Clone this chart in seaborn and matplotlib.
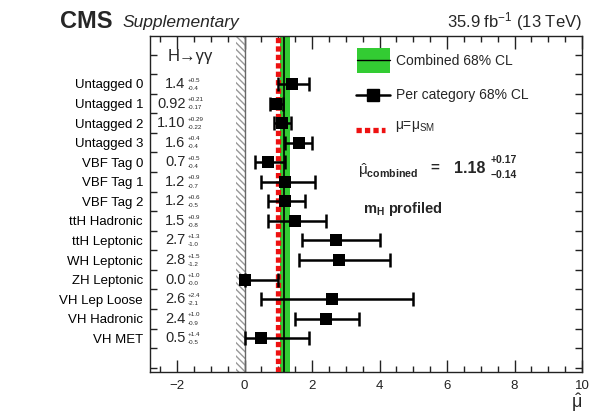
import numpy as np
import pandas as pd
import matplotlib
matplotlib.use("Agg")
import matplotlib.pyplot as plt
from matplotlib.ticker import MultipleLocator, FixedLocator
import seaborn as sns

categories = ["Untagged 0", "Untagged 1", "Untagged 2", "Untagged 3",
              "VBF Tag 0", "VBF Tag 1", "VBF Tag 2",
              "ttH Hadronic", "ttH Leptonic", "WH Leptonic", "ZH Leptonic",
              "VH Lep Loose", "VH Hadronic", "VH MET"]
mu_values = [1.4, 0.92, 1.10, 1.6, 0.7, 1.2, 1.2, 1.5, 2.7, 2.8, 0.0, 2.6, 2.4, 0.5]
err_up = [0.5, 0.21, 0.29, 0.4, 0.5, 0.9, 0.6, 0.9, 1.3, 1.5, 1.0, 2.4, 1.0, 1.4]
err_down = [0.4, 0.17, 0.22, 0.4, 0.4, 0.7, 0.5, 0.8, 1.0, 1.2, 0.0, 2.1, 0.9, 0.5]
value_labels = ["1.4", "0.92", "1.10", "1.6", "0.7", "1.2", "1.2",
                "1.5", "2.7", "2.8", "0.0", "2.6", "2.4", "0.5"]
up_labels = ["+0.5", "+0.21", "+0.29", "+0.4", "+0.5", "+0.9", "+0.6",
             "+0.9", "+1.3", "+1.5", "+1.0", "+2.4", "+1.0", "+1.4"]
down_labels = ["-0.4", "-0.17", "-0.22", "-0.4", "-0.4", "-0.7", "-0.5",
               "-0.8", "-1.0", "-1.2", "-0.0", "-2.1", "-0.9", "-0.5"]

mu_combined = 1.18
combined_up = 0.17
combined_down = 0.14
mu_sm = 1.0
x_ticks = [-2, 0, 2, 4, 6, 8, 10]

sns.set_theme(style="ticks")
plt.rcParams["font.family"] = ["Liberation Sans", "DejaVu Sans"]
plt.rcParams["mathtext.fontset"] = "custom"
plt.rcParams["mathtext.rm"] = "Liberation Sans"
plt.rcParams["mathtext.it"] = "Liberation Sans:italic"
plt.rcParams["mathtext.bf"] = "Liberation Sans:bold"

df = pd.DataFrame({"category": categories, "mu": mu_values,
                   "up": err_up, "down": err_down,
                   "y": np.arange(len(categories))})

fig = plt.figure(figsize=(6.08, 4.15), dpi=100)
ax = fig.add_axes([150 / 608, 1 - 372 / 415, 432 / 608, 336 / 415])

green = "#33cc33"
red = "#ee1111"
sm_dash = (0, (1.0, 0.6))
# combined 68% band with central value
ax.axvspan(mu_combined - combined_down, mu_combined + combined_up,
           color=green, lw=0, zorder=1)
ax.axvline(mu_combined, color="black", lw=1.2, zorder=2)
# SM expectation
ax.axvline(mu_sm, color=red, lw=3.8, ls=sm_dash, zorder=3)
# physical boundary at mu = 0
ax.axvspan(-0.25, 0, facecolor="none", edgecolor="#999999", hatch="\\\\\\\\\\",
           lw=0, zorder=1)
ax.axvline(0, color="#666666", lw=1.0, zorder=2)

# per-category results
ax.errorbar(df["mu"], df["y"], xerr=[df["down"], df["up"]], fmt="none",
            ecolor="black", elinewidth=1.8, capsize=5, capthick=1.8, zorder=4)
sns.scatterplot(data=df, x="mu", y="y", marker="s", s=66, color="black",
                edgecolor="black", linewidth=0, ax=ax, zorder=5, legend=False)

ax.set_xlim(-2.8, 10)
ax.set_ylim(14.72, -2.45)
ax.set_xlabel("")
ax.set_ylabel("")

ax.xaxis.set_major_locator(FixedLocator(x_ticks))
ax.xaxis.set_minor_locator(MultipleLocator(0.5))
ax.set_xticklabels([("\u2212" + str(-t)) if t < 0 else str(t) for t in x_ticks])
ax.tick_params(axis="x", which="major", direction="in", length=9, width=1,
               top=True, labelsize=9.5, pad=6, colors="#222222")
ax.tick_params(axis="x", which="minor", direction="in", length=4.5, width=1,
               top=True, colors="#222222")

ax.yaxis.set_major_locator(FixedLocator(df["y"]))
ax.set_yticklabels(categories)
ax.yaxis.set_minor_locator(FixedLocator(np.arange(-1.5, 14.6, 1.0)))
ax.tick_params(axis="y", which="major", length=0, labelsize=9.5, pad=5,
               colors="black")
ax.tick_params(axis="y", which="minor", direction="in", length=5, width=1,
               right=True, colors="#222222")
for sp in ax.spines.values():
    sp.set_color("#222222")
    sp.set_linewidth(1.0)

# value annotations per category
for i in range(len(categories)):
    ax.text(-1.75, i, value_labels[i], ha="right", va="center", fontsize=10.5)
    ax.text(-1.68, i - 0.2, up_labels[i], ha="left", va="center", fontsize=4.5)
    ax.text(-1.68, i + 0.22, down_labels[i], ha="left", va="center", fontsize=4.5)
ax.text(-1.62, -1.42, "H\u2192\u03b3\u03b3", ha="center", va="center", fontsize=12)

# legend block
ax.fill_between([3.34, 4.32], -1.84, -0.56, color=green, lw=0, zorder=3)
ax.plot([3.34, 4.32], [-1.2, -1.2], color="black", lw=1.0, zorder=4)
ax.text(4.5, -1.15, "Combined 68% CL", ha="left", va="center", fontsize=10)
ax.plot([3.31, 4.32], [0.56, 0.56], color="black", lw=1.8, zorder=4)
ax.plot([3.82], [0.56], marker="s", ms=8, color="black", zorder=5)
ax.text(4.5, 0.56, "Per category 68% CL", ha="left", va="center", fontsize=10)
ax.plot([3.31, 4.17], [2.33, 2.33], color=red, lw=3.8, ls=sm_dash, zorder=4)
ax.text(4.45, 2.2, r"$\mathrm{\mu}$=$\mathrm{\mu}_{\mathrm{SM}}$", ha="left",
        va="center", fontsize=10)
ax.text(3.35, 4.45, r"$\hat{\mathrm{\mu}}_{\mathbf{combined}}$", ha="left",
        va="center", fontsize=11)
ax.text(5.5, 4.3, "=", ha="left", va="center", fontsize=11, fontweight="bold")
ax.text(6.2, 4.3, "1.18", ha="left", va="center", fontsize=11.5,
        fontweight="bold")
ax.text(7.3, 3.9, "+0.17", ha="left", va="center", fontsize=7.5,
        fontweight="bold")
ax.text(7.3, 4.65, "\u22120.14", ha="left", va="center", fontsize=7.5,
        fontweight="bold")
ax.text(3.5, 6.4, r"$\mathbf{m_{H}}$ profiled", ha="left", va="center",
        fontsize=10.5, fontweight="bold")

# header
fig.text(60 / 608, 1 - 21 / 415, "CMS", ha="left", va="center", fontsize=17,
         fontweight="bold")
fig.text(122 / 608, 1 - 22 / 415, "Supplementary", ha="left", va="center",
         fontsize=12.5, style="italic")
fig.text(582 / 608, 1 - 22 / 415, r"35.9 fb$^{\mathrm{-1}}$ (13 TeV)",
         ha="right", va="center", fontsize=12)
fig.text(582 / 608, 1 - 403 / 415, r"$\hat{\mathrm{\mu}}$", ha="right",
         va="center", fontsize=13)

fig.savefig("out.png", dpi=100)
